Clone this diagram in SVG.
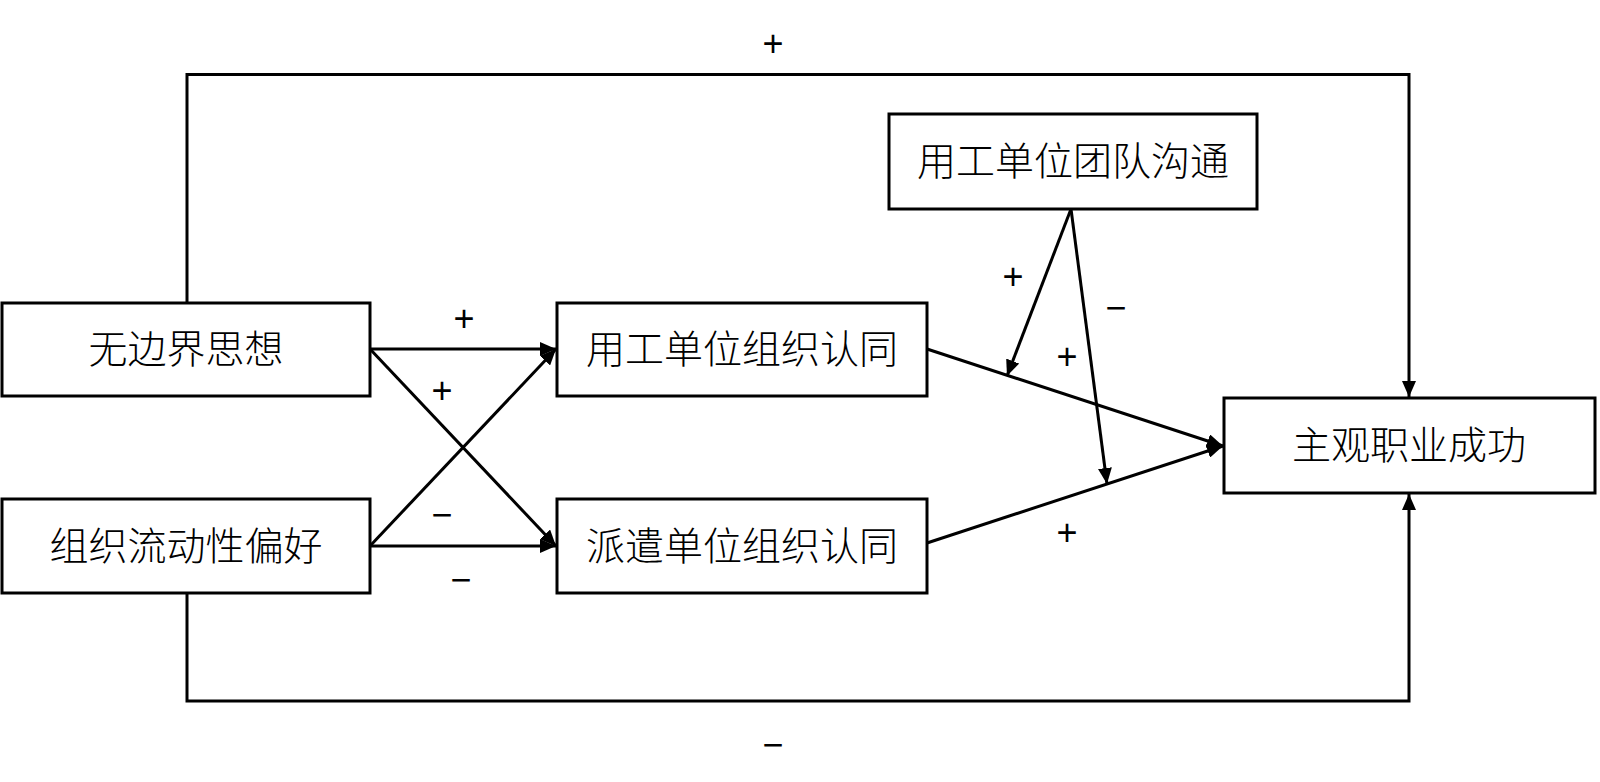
<svg xmlns="http://www.w3.org/2000/svg" width="1600" height="782" viewBox="0 0 1600 782">
<style>
.box{fill:#fff;stroke:#000;stroke-width:3}
.t{font-family:"Noto Sans CJK SC","Liberation Serif",serif;font-size:39px;font-weight:300;text-anchor:middle;fill:#000}
.s{font-family:"Liberation Sans","Noto Sans CJK SC",sans-serif;font-size:36px;text-anchor:middle;fill:#000}
.c{fill:none;stroke:#000;stroke-width:3}
</style>
<defs>
<marker id="ah" markerUnits="userSpaceOnUse" markerWidth="18" markerHeight="14" refX="16" refY="7" orient="auto">
<path d="M0,0 L16,7 L0,14 z" fill="#000"/>
</marker>
</defs>
<rect width="1600" height="782" fill="#fff"/>
<g id="connectors">
<polyline class="c" points="187,303 187,74.5 1409,74.5 1409,397" marker-end="url(#ah)"/>
<polyline class="c" points="187,593 187,701 1409,701 1409,494" marker-end="url(#ah)"/>
<line class="c" x1="370" y1="349" x2="556" y2="349" marker-end="url(#ah)"/>
<line class="c" x1="370" y1="349" x2="556" y2="546" marker-end="url(#ah)"/>
<line class="c" x1="370" y1="546" x2="556" y2="546" marker-end="url(#ah)"/>
<line class="c" x1="370" y1="546" x2="556" y2="349" marker-end="url(#ah)"/>
<line class="c" x1="927" y1="349" x2="1223" y2="446" marker-end="url(#ah)"/>
<line class="c" x1="927" y1="543" x2="1223" y2="446" marker-end="url(#ah)"/>
<line class="c" x1="1071" y1="209" x2="1007" y2="376" marker-end="url(#ah)"/>
<line class="c" x1="1071" y1="209" x2="1107" y2="484" marker-end="url(#ah)"/>
<text class="s" x="773" y="56">+</text>
<text class="s" x="773" y="757">−</text>
<text class="s" x="464" y="331">+</text>
<text class="s" x="442" y="403">+</text>
<text class="s" x="442" y="527">−</text>
<text class="s" x="461" y="592">−</text>
<text class="s" x="1013" y="289">+</text>
<text class="s" x="1116" y="320">−</text>
<text class="s" x="1067" y="369">+</text>
<text class="s" x="1067" y="545">+</text>
</g>
<g id="n1"><rect class="box" x="2" y="303" width="368" height="93"/><text class="t" x="186" y="363">无边界思想</text></g>
<g id="n2"><rect class="box" x="2" y="499" width="368" height="94"/><text class="t" x="186" y="560">组织流动性偏好</text></g>
<g id="n3"><rect class="box" x="557" y="303" width="370" height="93"/><text class="t" x="742" y="363">用工单位组织认同</text></g>
<g id="n4"><rect class="box" x="557" y="499" width="370" height="94"/><text class="t" x="742" y="560">派遣单位组织认同</text></g>
<g id="n5"><rect class="box" x="889" y="114" width="368" height="95"/><text class="t" x="1073" y="175">用工单位团队沟通</text></g>
<g id="n6"><rect class="box" x="1224" y="398" width="371" height="95"/><text class="t" x="1409" y="459">主观职业成功</text></g>
</svg>
